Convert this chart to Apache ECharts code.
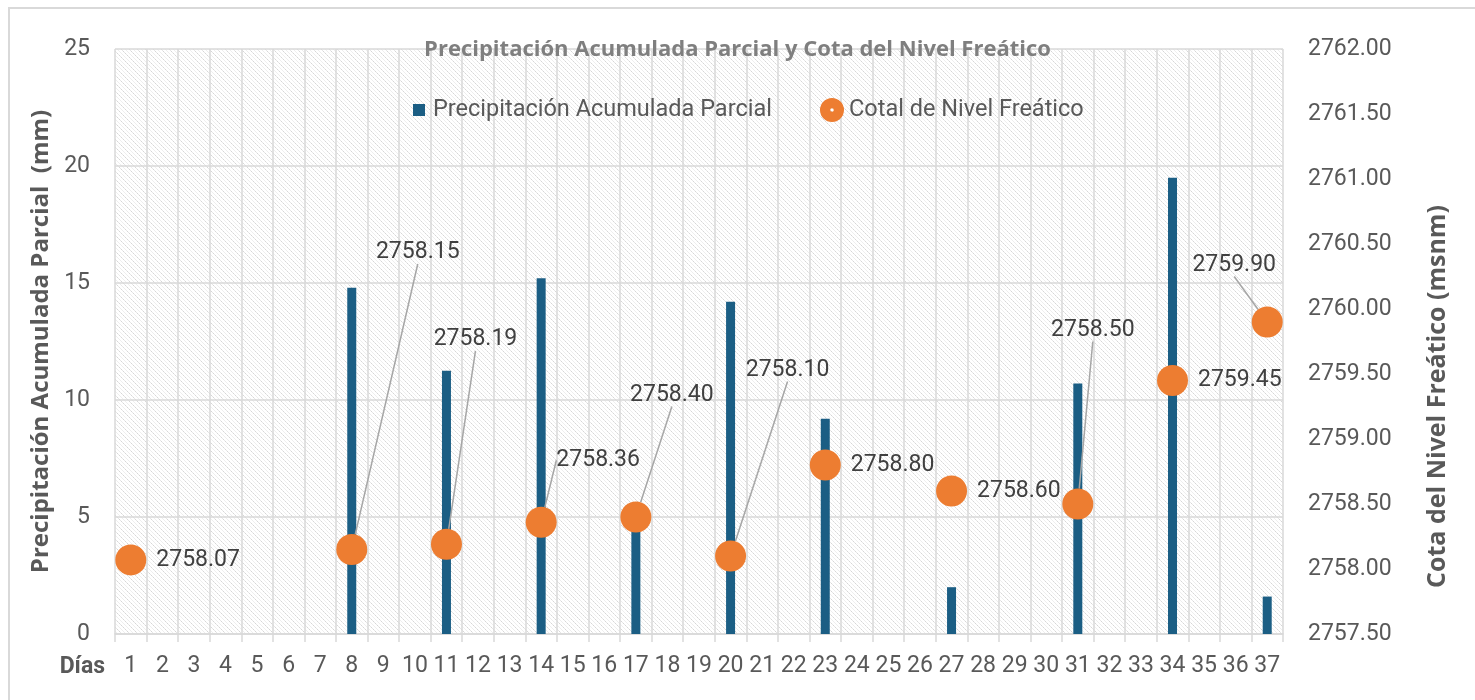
<!DOCTYPE html>
<html>
<head>
<meta charset="utf-8">
<script src="https://cdn.jsdelivr.net/npm/echarts@6/dist/echarts.min.js"></script>
<style>
  html, body { margin: 0; padding: 0; background: #fff; }
  #chart { width: 1475px; height: 700px; }
</style>
</head>
<body>
<div id="chart"></div>
<script>
const days = ['1','2','3','4','5','6','7','8','9','10','11','12','13','14','15','16','17','18','19',
  '20','21','22','23','24','25','26','27','28','29','30','31','32','33','34','35','36','37'];

// precipitación acumulada parcial (mm), null = sin dato
const precipitacion = [null,null,null,null,null,null,null,14.8,null,null,11.25,null,null,15.2,null,null,5.1,null,null,
  14.2,null,null,9.2,null,null,null,2.0,null,null,null,10.7,null,null,19.5,null,null,1.6];

// cota del nivel freático (msnm)
const nivel = [2758.07,null,null,null,null,null,null,2758.15,null,null,2758.19,null,null,2758.36,null,null,2758.40,null,null,
  2758.10,null,null,2758.80,null,null,null,2758.60,null,null,null,2758.50,null,null,2759.45,null,null,2759.90];

const leftTicks = { min: 0, max: 25, interval: 5 };
const rightTicks = { min: 2757.5, max: 2762, interval: 0.5 };

// etiquetas desplazadas con línea guía (desplazamiento desde el centro del punto)
const labelShift = { 7: [66, -297], 10: [29, -205], 13: [57, -62], 16: [36, -122], 19: [57, -186], 30: [15, -174], 36: [-33, -57] };

// fondo rayado del área de trazado
const tile = document.createElement('canvas');
tile.width = 8; tile.height = 8;
const tctx = tile.getContext('2d');
tctx.fillStyle = '#ffffff';
tctx.fillRect(0, 0, 8, 8);
for (let k = 0; k < 8; k++) {
  tctx.fillStyle = (k % 2) ? '#d6d6d6' : '#e6e6e6';
  tctx.fillRect(k, k, 1, 1);
  tctx.fillStyle = '#eeeeee';
  tctx.fillRect((k + 4) % 8, k, 1, 1);
}

const txt = '#595959';
const gridColor = '#d9d9d9';
const orange = '#ED7D31';
const blue = '#1B5E84';

const scatterData = nivel.map((v, i) => {
  if (v == null) return '-';
  const moved = !!labelShift[i];
  return {
    value: v,
    label: { position: moved ? 'inside' : 'right' },
    labelLine: { show: moved }
  };
});

const chart = echarts.init(document.getElementById('chart'));
chart.setOption({
  backgroundColor: '#ffffff',
  animation: false,
  textStyle: { fontFamily: 'Roboto' },
  title: {
    text: 'Precipitación Acumulada Parcial y Cota del Nivel Freático',
    left: 'center', top: 34,
    textStyle: { color: '#7F7F7F', fontSize: 22, fontWeight: 'bold', fontFamily: 'Open Sans' }
  },
  legend: [
    {
      data: ['Precipitación Acumulada Parcial'],
      left: 408, top: 93,
      itemWidth: 12, itemHeight: 12,
      icon: 'rect',
      textStyle: { color: txt, fontSize: 23.5, padding: [0, 0, 0, 3] }
    },
    {
      data: ['Cotal de Nivel Freático'],
      left: 815, top: 93,
      itemWidth: 24, itemHeight: 24,
      icon: 'path://M12,0A12,12 0 1,1 11.99,0Z M12,10.2A1.8,1.8 0 1,0 12.01,10.2Z',
      textStyle: { color: txt, fontSize: 23.5, padding: [0, 0, 0, 0] }
    }
  ],
  grid: { left: 115, right: 192, top: 49, bottom: 66, show: true, borderWidth: 0,
    backgroundColor: { image: tile, repeat: 'repeat' } },
  xAxis: {
    type: 'category',
    data: days,
    boundaryGap: true,
    name: 'Días',
    nameLocation: 'start',
    nameGap: 10,
    nameTextStyle: { color: txt, fontSize: 23, fontWeight: 'bold', verticalAlign: 'top', padding: [22, 0, 0, 0] },
    axisLine: { lineStyle: { color: gridColor, width: 1.5 } },
    axisTick: { show: true, length: 8, lineStyle: { color: gridColor, width: 1.5 } },
    axisLabel: { color: txt, fontSize: 23, interval: 0, margin: 21 },
    splitLine: { show: true, interval: 0, lineStyle: { color: gridColor, width: 1.5 } }
  },
  yAxis: [
    {
      type: 'value',
      min: leftTicks.min, max: leftTicks.max, interval: leftTicks.interval,
      name: 'Precipitación Acumulada Parcial  (mm)',
      nameLocation: 'middle',
      nameGap: 54,
      nameTextStyle: { color: txt, fontSize: 24, fontWeight: 'bold', fontFamily: 'Open Sans' },
      axisLine: { show: false },
      axisTick: { show: false },
      axisLabel: { color: txt, fontSize: 23, margin: 25 },
      splitLine: { show: true, lineStyle: { color: gridColor, width: 1.5 } }
    },
    {
      type: 'value',
      position: 'right',
      min: rightTicks.min, max: rightTicks.max, interval: rightTicks.interval,
      name: 'Cota del Nivel Freático (msnm)',
      nameLocation: 'middle',
      nameRotate: 90,
      nameGap: 142,
      nameTextStyle: { color: txt, fontSize: 25, fontWeight: 'bold', fontFamily: 'Open Sans', padding: [0, 110, 0, 0] },
      axisLine: { show: false },
      axisTick: { show: false },
      axisLabel: { color: txt, fontSize: 23, margin: 25, formatter: v => v.toFixed(2) },
      splitLine: { show: false }
    }
  ],
  series: [
    {
      name: 'Precipitación Acumulada Parcial',
      type: 'bar',
      yAxisIndex: 0,
      barWidth: 9,
      itemStyle: { color: blue },
      data: precipitacion.map(v => v == null ? '-' : v)
    },
    {
      name: 'Cotal de Nivel Freático',
      type: 'scatter',
      yAxisIndex: 1,
      symbol: 'circle',
      symbolSize: 31,
      itemStyle: { color: orange, opacity: 1 },
      label: {
        show: true,
        distance: 10,
        color: '#404040',
        fontSize: 23,
        formatter: p => p.value.toFixed(2)
      },
      labelLine: { show: false, lineStyle: { color: '#a6a6a6', width: 1.5 } },
      labelLayout: p => {
        const o = labelShift[p.dataIndex];
        return o ? { dx: o[0], dy: o[1] } : {};
      },
      data: scatterData
    }
  ],
  graphic: [
    { type: 'rect', silent: true, z: -1,
      shape: { x: 9, y: 8, width: 1600, height: 800 },
      style: { fill: 'none', stroke: gridColor, lineWidth: 2 } }
  ]
});
</script>
</body>
</html>
